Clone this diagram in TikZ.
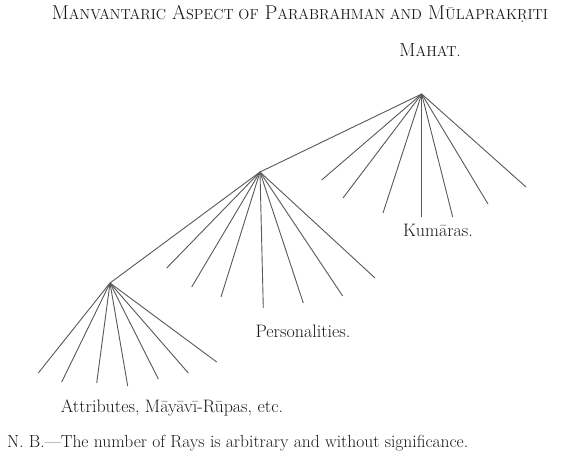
\documentclass[tikz,border=0pt]{standalone}
\usetikzlibrary{positioning}
\tikzset{
  ray/.style={draw=black!65,line width=0.9pt},
  label/.style={font=\fontsize{18}{21}\selectfont,text=black!90,inner sep=1pt},
}
\newcommand{\fsc}[1]{{\fontsize{14.5}{16}\selectfont #1}}
\begin{document}
\begin{tikzpicture}[x=1pt,y=-1pt]
        \useasboundingbox[fill=white] (0,0) rectangle (584,463);
        %% title
        \node[font=\fontsize{20}{23}\selectfont,text=black!90] (title) at (300,14)
          {M\fsc{ANVANTARIC} A\fsc{SPECT OF} P\fsc{ARABRAHMAN AND} M\fsc{ŪLAPRAKṚITI}};
        %% apexes of the rays
        \coordinate (mahat) at (421.7,94);
        \coordinate (person) at (260,172);
        \coordinate (attrib) at (110,283);
        %% labels
        \node[label,font=\fontsize{19}{21}\selectfont] (mahatlab) at (430,50) {M\fsc{AHAT.}};
        \node[label] (kumaras) at (438,230) {Kumāras.};
        \node[label] (personlab) at (303,331) {Personalities.};
        \node[label] (attriblab) at (172,408) {Attributes, Māyāvī-Rūpas, etc.};
        \node[label,font=\fontsize{17.5}{20}\selectfont,anchor=west] (nb) at (6,443) {N. B.---The number of Rays is arbitrary and without significance.};
        %% rays
        \draw[ray] (mahat) -- (person) -- (attrib);
        \foreach \x/\y [count=\i] in {321.7/180,343/198,383/213,421.7/217,452.7/217,488/204,526/187}
          {\coordinate (k\i) at (\x,\y); \draw[ray] (mahat) -- (k\i);}
        \foreach \x/\y [count=\i] in {166.7/268,191.7/287,221/297,263.3/308,303.3/303,342.7/296,375/278}
          {\coordinate (p\i) at (\x,\y); \draw[ray] (person) -- (p\i);}
        \foreach \x/\y [count=\i] in {38.3/373,61.7/382,96.7/383,127.7/386,158.3/379,188.3/373,216.7/362}
          {\coordinate (a\i) at (\x,\y); \draw[ray] (attrib) -- (a\i);}
    \end{tikzpicture}
\end{document}
